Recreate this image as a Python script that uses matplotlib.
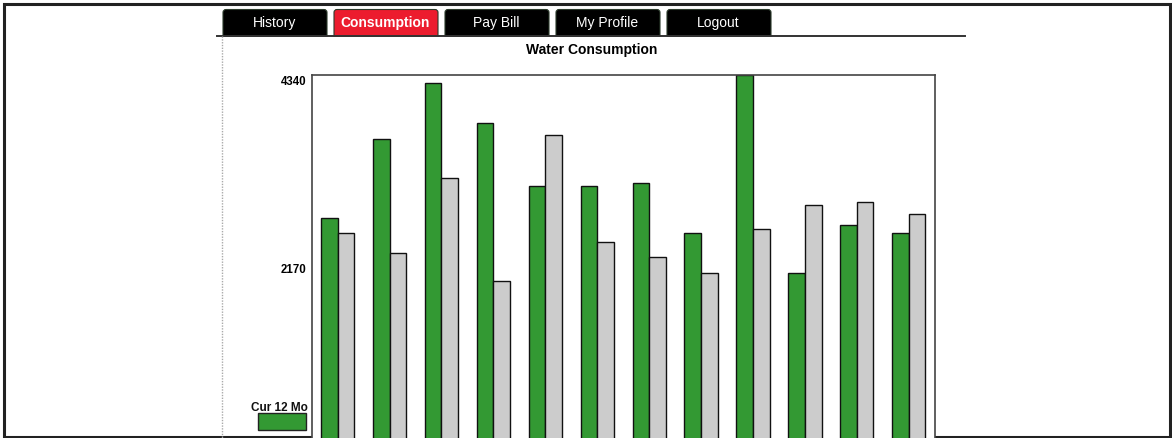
import matplotlib.pyplot as plt
import matplotlib.transforms as mtransforms
from matplotlib.patches import Rectangle, FancyBboxPatch

plt.rcParams['font.family'] = ['Liberation Sans', 'DejaVu Sans']

# data (12 months, current vs previous 12 months)
months = list(range(12))
cur_12_mo = [2695, 3606, 4244, 3790, 3064, 3064, 3099, 2516, 4340, 2062, 2615, 2516]
prev_12_mo = [2516, 2292, 3153, 1966, 3652, 2419, 2239, 2062, 2562, 2838, 2876, 2742]
y_ticks = [2170, 4340]
y_tick_labels = ['2170', '4340']

tabs = ['History', 'Consumption', 'Pay Bill', 'My Profile', 'Logout']
active_tab = 'Consumption'

W, H = 1172, 439
fig = plt.figure(figsize=(W / 100, H / 100), dpi=100)

# page layer in pixel coordinates
bg = fig.add_axes([0, 0, 1, 1])
bg.set_xlim(0, W)
bg.set_ylim(H, 0)
bg.axis('off')

# outer frame
bg.add_patch(Rectangle((4, 5), 1166, 433, fill=False, ec='#222222', lw=2.2))

# tabs
for i, name in enumerate(tabs):
    x0 = 222 + i * 111
    color = '#ec1c2e' if name == active_tab else '#000000'
    bg.add_patch(FancyBboxPatch((x0 + 1, 10.5), 104, 32,
                                boxstyle='round,pad=0,rounding_size=3',
                                fc=color, ec='#2b3a2b', lw=0.8))
    bg.text(x0 + 52.5, 22.5, name, color='white', ha='center', va='center',
            fontsize=10, fontweight='bold' if name == active_tab else 'normal')
# cover the bottom of tabs
bg.add_patch(Rectangle((200, 37.5), 800, 6, fc='white', ec='none'))
bg.plot([217, 965], [37, 37], color='#333333', lw=1.4)

# dotted left guide
bg.plot([221.7, 221.7], [37, H], color='#aaaaaa', lw=1, ls=(0, (1, 1)))

# title
bg.text(592, 50, 'Water Consumption', ha='center', va='center',
        fontsize=10, fontweight='bold')

# legend
bg.text(279, 408, 'Cur 12 Mo', ha='center', va='center',
        fontsize=8.5, fontweight='bold', color='#111111')
bg.add_patch(Rectangle((258, 414), 48, 17, fc='#339933', ec='#222222', lw=1))

# chart axes (bottom part is cut off by the page)
left, right, top, zero = 311.7, 934.7, 76, 452.6
ax = fig.add_axes([left / W, 1 - zero / H, (right - left) / W, (zero - top) / H])
w = 0.32
ax.bar([m - w / 2 for m in months], cur_12_mo, width=w, color='#339933',
       edgecolor='#111111', linewidth=1)
ax.bar([m + w / 2 for m in months], prev_12_mo, width=w, color='#cccccc',
       edgecolor='#111111', linewidth=1)
ax.set_xlim(-0.5, 11.5)
ax.set_ylim(0, max(y_ticks))
ax.set_xticks([])
ax.set_yticks(y_ticks, labels=y_tick_labels, fontsize=8.3, fontweight='bold')
shift = mtransforms.ScaledTranslation(0, -2 / 72, fig.dpi_scale_trans)
for lbl in ax.get_yticklabels():
    lbl.set_va('top')
    lbl.set_transform(lbl.get_transform() + shift)
ax.tick_params(axis='y', length=0, pad=4)
for s in ax.spines.values():
    s.set_color('#444444')
    s.set_linewidth(1.2)

fig.savefig('out.png', dpi=100)
